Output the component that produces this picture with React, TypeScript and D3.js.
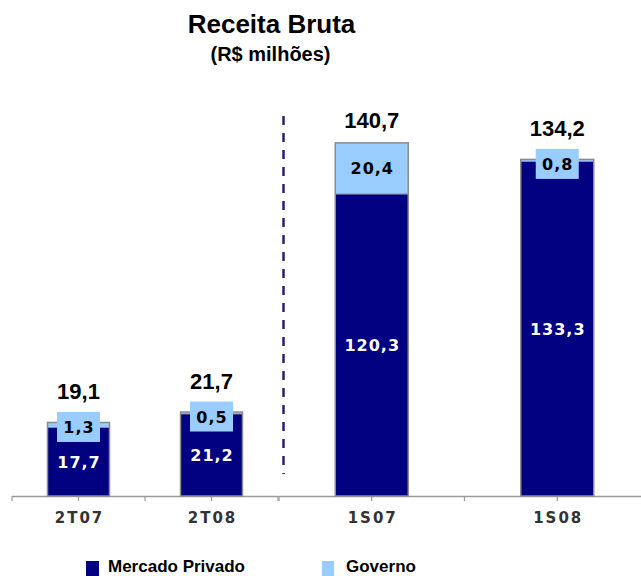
import React from "react";
import * as d3 from "d3";

const leftCategories = ["2T07", "2T08"];
const leftPrivado = [17.7, 21.2];
const leftGoverno = [1.3, 0.5];
const leftTotals = [19.1, 21.7];

const rightCategories = ["1S07", "1S08"];
const rightPrivado = [120.3, 133.3];
const rightGoverno = [20.4, 0.8];
const rightTotals = [140.7, 134.2];

const fmt = (v: number) => v.toFixed(1).replace(".", ",");

const DARK = "#000080";
const LIGHT = "#99ccff";
const FONT = "Liberation Sans, Arial, sans-serif";
const WIDE = "DejaVu Sans, Verdana, sans-serif";
const BASE = 496;

type PanelProps = {
  cats: string[];
  priv: number[];
  gov: number[];
  totals: number[];
  x0: number;
  x1: number;
  yMax: number;
  pxPerUnit: number;
  barW: number;
};

function Panel({ cats, priv, gov, totals, x0, x1, yMax, pxPerUnit, barW }: PanelProps) {
  const x = d3.scaleBand<string>().domain(cats).range([x0, x1]).padding(0);
  const y = d3.scaleLinear().domain([0, yMax]).range([BASE, BASE - yMax * pxPerUnit]);
  const step = x.step();
  const ticks: number[] = [];
  cats.forEach((c, i) => {
    const s = x(c)!;
    ticks.push(s, s + step / 2);
    if (i === cats.length - 1) ticks.push(s + step);
  });
  const ls = 1;
  return (
    <g>
      <line x1={x0} x2={x1} y1={BASE + 0.5} y2={BASE + 0.5} stroke="#9a9a9a" strokeWidth={1.5} />
      {ticks.map((t, i) => (
        <line key={i} x1={t} x2={t} y1={BASE} y2={BASE + 5} stroke="#9a9a9a" strokeWidth={1.2} />
      ))}
      {cats.map((c, i) => {
        const cx = x(c)! + step / 2;
        const yPriv = y(priv[i]);
        const yTop = y(priv[i] + gov[i]);
        const segH = yPriv - yTop;
        const hasBox = segH < 30;
        const boxW = 43;
        const boxH = 30;
        const govCy = hasBox ? yTop + 4.5 : (yTop + yPriv) / 2;
        const boxTop = govCy - boxH / 2;
        const totalBase = hasBox ? boxTop - 13 : yTop - 15;
        return (
          <g key={c}>
            <rect x={cx - barW / 2} y={yPriv} width={barW} height={BASE - yPriv} fill={DARK} />
            <rect x={cx - barW / 2} y={yTop} width={barW} height={segH} fill={LIGHT} />
            <rect
              x={cx - barW / 2}
              y={yTop}
              width={barW}
              height={BASE - yTop}
              fill="none"
              stroke="#8c8c8c"
              strokeWidth={1.5}
            />
            <line x1={cx - barW / 2} x2={cx + barW / 2} y1={yPriv} y2={yPriv} stroke="#8c8c8c" strokeWidth={1} />
            {hasBox && <rect x={cx - boxW / 2} y={boxTop} width={boxW} height={boxH} fill={LIGHT} />}
            <text
              x={cx + ls / 2}
              y={govCy + 6}
              textAnchor="middle"
              fontFamily={WIDE}
              fontWeight="bold"
              fontSize={16}
              letterSpacing={ls}
              fill="#000"
            >
              {fmt(gov[i])}
            </text>
            <text
              x={cx + ls / 2}
              y={(yPriv + BASE) / 2 + 6}
              textAnchor="middle"
              fontFamily={WIDE}
              fontWeight="bold"
              fontSize={16}
              letterSpacing={ls}
              fill="#fff"
            >
              {fmt(priv[i])}
            </text>
            <text
              x={cx}
              y={totalBase}
              textAnchor="middle"
              fontFamily={FONT}
              fontWeight="bold"
              fontSize={22}
              fill="#000"
            >
              {fmt(totals[i])}
            </text>
            <text
              x={cx + 1}
              y={523}
              textAnchor="middle"
              fontFamily={WIDE}
              fontWeight="bold"
              fontSize={15}
              letterSpacing={2}
              fill="#333"
            >
              {c}
            </text>
          </g>
        );
      })}
    </g>
  );
}

export default function App() {
  return (
    <svg
      width={641}
      height={576}
      style={{ position: "absolute", left: 0, top: 0, background: "#fff" }}
    >
      <text x={271.5} y={33} textAnchor="middle" fontFamily={FONT} fontWeight="bold" fontSize={26}>
        Receita Bruta
      </text>
      <text x={270.5} y={61} textAnchor="middle" fontFamily={FONT} fontWeight="bold" fontSize={20}>
        (R$ milhões)
      </text>
      <Panel
        cats={leftCategories}
        priv={leftPrivado}
        gov={leftGoverno}
        totals={leftTotals}
        x0={12}
        x1={278}
        yMax={25}
        pxPerUnit={3.87}
        barW={62}
      />
      <Panel
        cats={rightCategories}
        priv={rightPrivado}
        gov={rightGoverno}
        totals={rightTotals}
        x0={279}
        x1={650}
        yMax={150}
        pxPerUnit={2.51}
        barW={73}
      />
      <line x1={283.5} x2={283.5} y1={116} y2={474} stroke="#2b2070" strokeWidth={2.5} strokeDasharray="9,8" />
      <rect x={86} y={561} width={13} height={15} fill={DARK} />
      <text x={108} y={572} fontFamily={FONT} fontWeight="bold" fontSize={17}>
        Mercado Privado
      </text>
      <rect x={322} y={561} width={12} height={15} fill={LIGHT} />
      <text x={346} y={572} fontFamily={FONT} fontWeight="bold" fontSize={17}>
        Governo
      </text>
    </svg>
  );
}
